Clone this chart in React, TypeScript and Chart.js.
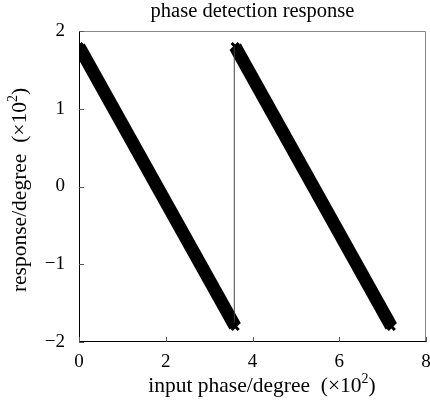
import React, { useEffect, useRef } from "react";
import { Chart, registerables } from "chart.js";
Chart.register(...registerables);

const seg1X = [0, 3.6];
const seg1Y = [1.8, -1.8];
const seg2X = [3.6, 7.2];
const seg2Y = [1.8, -1.8];
const jumpX = [3.58, 3.58];
const jumpY = [-1.75, 1.8];
const xTicks = [0, 2, 4, 6, 8];
const yTicks = [-2, -1, 0, 1, 2];
const chartTitle = "phase detection response";
const xTitle = "input phase/degree  (×10";
const yTitle = "response/degree  (×10";

const FONT = "'Liberation Serif', 'Times New Roman', serif";

const toPts = (xs: number[], ys: number[]) => xs.map((x, i) => ({ x, y: ys[i] }));

function drawSupTitle(ctx: CanvasRenderingContext2D, base: string) {
  const big = `21.5px ${FONT}`;
  const small = `14px ${FONT}`;
  ctx.font = big;
  const w1 = ctx.measureText(base).width;
  ctx.font = small;
  const w2 = ctx.measureText("2").width;
  ctx.font = big;
  const w3 = ctx.measureText(")").width;
  const total = w1 + w2 + w3;
  let x = -total / 2;
  ctx.textBaseline = "middle";
  ctx.textAlign = "left";
  ctx.fillText(base, x, 0);
  x += w1;
  ctx.font = small;
  ctx.fillText("2", x, -7);
  x += w2;
  ctx.font = big;
  ctx.fillText(")", x, 0);
}

const framePlugin = {
  id: "frame",
  afterDatasetsDraw(chart: any) {
    const { ctx, chartArea: a, scales } = chart;
    ctx.save();
    ctx.lineWidth = 1;
    ctx.strokeStyle = "#888";
    ctx.beginPath();
    ctx.moveTo(a.left, a.top + 0.5);
    ctx.lineTo(a.right - 0.5, a.top + 0.5);
    ctx.lineTo(a.right - 0.5, a.bottom);
    ctx.stroke();
    ctx.strokeStyle = "#000";
    ctx.beginPath();
    ctx.moveTo(a.left + 0.5, a.top);
    ctx.lineTo(a.left + 0.5, a.bottom - 0.5);
    ctx.lineTo(a.right, a.bottom - 0.5);
    ctx.stroke();
    ctx.strokeStyle = "#555";
    const tl = 5;
    xTicks.forEach((t) => {
      const px = Math.round(scales.x.getPixelForValue(t)) + 0.5;
      ctx.beginPath();
      ctx.moveTo(px, a.bottom);
      ctx.lineTo(px, a.bottom - tl);
      ctx.stroke();
    });
    yTicks.forEach((t) => {
      const py = Math.round(scales.y.getPixelForValue(t)) + 0.5;
      ctx.beginPath();
      ctx.moveTo(a.left, py);
      ctx.lineTo(a.left + tl, py);
      ctx.stroke();
    });
    ctx.fillStyle = "#000";
    ctx.font = `20.5px ${FONT}`;
    ctx.textAlign = "center";
    ctx.textBaseline = "middle";
    ctx.fillText(chartTitle, (a.left + a.right) / 2, 12);
    ctx.save();
    ctx.translate(262, 386);
    drawSupTitle(ctx, xTitle);
    ctx.restore();
    ctx.save();
    ctx.translate(20, 190);
    ctx.rotate(-Math.PI / 2);
    drawSupTitle(ctx, yTitle);
    ctx.restore();
    ctx.restore();
  },
};

export default function App() {
  const ref = useRef<HTMLCanvasElement>(null);
  useEffect(() => {
    const mainStyle = {
      showLine: true,
      borderColor: "#000",
      backgroundColor: "#000",
      borderWidth: 13,
      borderCapStyle: "butt",
      pointStyle: "crossRot",
      pointRadius: 5,
      pointBorderWidth: 3,
    };
    const chart = new Chart(ref.current!, {
      type: "scatter",
      data: {
        datasets: [
          {
            data: toPts(jumpX, jumpY),
            showLine: true,
            borderColor: "#444",
            borderWidth: 1,
            pointRadius: 0,
          },
          { data: toPts(seg1X, seg1Y), ...mainStyle },
          { data: toPts(seg2X, seg2Y), ...mainStyle },
        ],
      },
      options: {
        animation: false,
        responsive: false,
        maintainAspectRatio: false,
        layout: { autoPadding: false, padding: { left: 0, right: 4, top: 31, bottom: 0 } },
        plugins: {
          legend: { display: false },
          tooltip: { enabled: false },
          title: { display: false },
        },
        scales: {
          x: {
            type: "linear",
            min: 0,
            max: 8,
            afterBuildTicks: (s: any) => {
              s.ticks = xTicks.map((v) => ({ value: v }));
            },
            afterFit: (s: any) => {
              s.height = 65;
              s.paddingLeft = 0;
              s.paddingRight = 0;
            },
            grid: { display: false, drawTicks: false },
            border: { display: false },
            ticks: {
              color: "#000",
              padding: 9,
              font: { family: FONT, size: 19 },
              maxRotation: 0,
            },
            title: { display: false },
          },
          y: {
            type: "linear",
            min: -2,
            max: 2,
            afterBuildTicks: (s: any) => {
              s.ticks = yTicks.map((v) => ({ value: v }));
            },
            afterFit: (s: any) => {
              s.width = 79;
              s.paddingTop = 0;
              s.paddingBottom = 0;
            },
            grid: { display: false, drawTicks: false },
            border: { display: false },
            ticks: {
              color: "#000",
              padding: 14,
              font: { family: FONT, size: 19 },
              callback: (v: any) => (v < 0 ? "\u2212" + Math.abs(v) : String(v)),
            },
            title: { display: false },
          },
        },
      },
      plugins: [framePlugin],
    } as any);
    return () => chart.destroy();
  }, []);
  return (
    <div style={{ position: "fixed", left: 0, top: 0, width: 430, height: 407, background: "#fff" }}>
      <canvas ref={ref} width={430} height={407} />
    </div>
  );
}
